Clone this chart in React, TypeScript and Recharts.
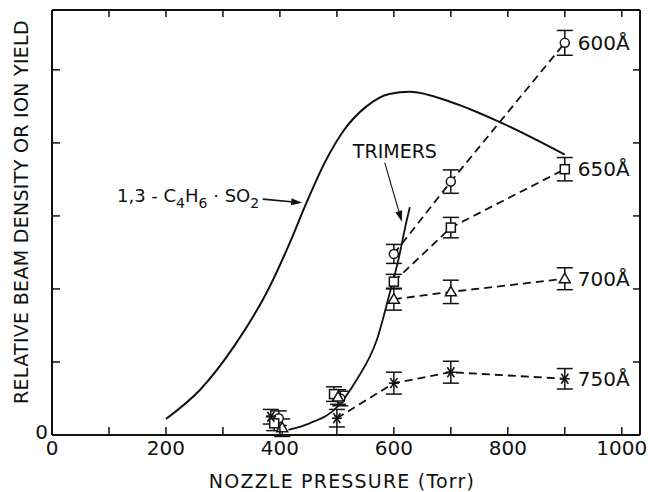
import { ComposedChart, Line, Scatter, XAxis, YAxis, ErrorBar, ReferenceLine, ReferenceDot } from 'recharts';

const ink = '#111';
const font = '"DejaVu Sans", sans-serif';

const xTicks = [0, 100, 200, 300, 400, 500, 600, 700, 800, 900, 1000];
const yTicks = [0, 1, 2, 3, 4, 5];

// solid curves
const adductCurve = [
  { x: 200, y: 0.22 }, { x: 260, y: 0.62 }, { x: 320, y: 1.22 }, { x: 380, y: 2.0 },
  { x: 420, y: 2.68 }, { x: 445, y: 3.15 }, { x: 480, y: 3.75 }, { x: 512, y: 4.17 },
  { x: 552, y: 4.5 }, { x: 592, y: 4.67 }, { x: 628, y: 4.7 }, { x: 700, y: 4.56 },
  { x: 790, y: 4.27 }, { x: 900, y: 3.84 },
];
const trimerCurve = [
  { x: 415, y: 0.07 }, { x: 452, y: 0.16 }, { x: 500, y: 0.38 }, { x: 535, y: 0.76 },
  { x: 570, y: 1.3 }, { x: 593, y: 1.95 }, { x: 608, y: 2.4 }, { x: 622, y: 2.92 }, { x: 628, y: 3.12 },
];

// ion yields with error bars
const s600 = [{ x: 600, y: 2.48, err: 0.13 }, { x: 700, y: 3.47, err: 0.16 }, { x: 900, y: 5.37, err: 0.17 }];
const s650 = [{ x: 600, y: 2.1, err: 0.1 }, { x: 700, y: 2.84, err: 0.14 }, { x: 900, y: 3.64, err: 0.16 }];
const s700 = [{ x: 600, y: 1.86, err: 0.15 }, { x: 700, y: 1.96, err: 0.16 }, { x: 900, y: 2.14, err: 0.15 }];
const s750 = [{ x: 500, y: 0.23, err: 0.12 }, { x: 600, y: 0.71, err: 0.15 }, { x: 700, y: 0.86, err: 0.15 }, { x: 900, y: 0.77, err: 0.14 }];

const s600Low = [{ x: 398, y: 0.23, err: 0.1 }, { x: 506, y: 0.5, err: 0.1 }];
const s650Low = [{ x: 390, y: 0.16, err: 0.1 }, { x: 495, y: 0.56, err: 0.1 }];
const s700Low = [{ x: 404, y: 0.1, err: 0.12 }, { x: 502, y: 0.52, err: 0.1 }];
const s750Low = [{ x: 384, y: 0.25, err: 0.1 }];

const seriesLabels = ['600', '650', '700', '750'];

const formulaAnchor = { x: 114, y: 3.19 };
const formulaArrow = [{ x: 370, y: 3.23 }, { x: 439, y: 3.18 }];
const trimerAnchor = { x: 528, y: 3.79 };
const trimerArrow = [{ x: 584, y: 3.73 }, { x: 614, y: 2.92 }];

const dashed = { stroke: ink, strokeWidth: 1.8, strokeDasharray: '8 5' };

function CircleMark(p: any) {
  return <circle cx={p.cx} cy={p.cy} r={4.5} fill="#fff" stroke={ink} strokeWidth={1.5} />;
}
function SquareMark(p: any) {
  return <rect x={p.cx - 4.5} y={p.cy - 4.5} width={9} height={9} fill="#fff" stroke={ink} strokeWidth={1.5} />;
}
function TriangleMark(p: any) {
  const { cx, cy } = p;
  return <polygon points={`${cx},${cy - 5.5} ${cx - 5.5},${cy + 4} ${cx + 5.5},${cy + 4}`} fill="#fff" stroke={ink} strokeWidth={1.5} />;
}
function StarMark(p: any) {
  const { cx, cy } = p;
  return (
    <g stroke={ink} strokeWidth={1.6}>
      <line x1={cx - 5} y1={cy} x2={cx + 5} y2={cy} />
      <line x1={cx - 3.5} y1={cy - 5} x2={cx + 3.5} y2={cy + 5} />
      <line x1={cx - 3.5} y1={cy + 5} x2={cx + 3.5} y2={cy - 5} />
    </g>
  );
}

function BottomTick(p: any) {
  const { x, y, payload } = p;
  const v = payload.value;
  return (
    <g>
      {v > 0 && <line x1={x} y1={y} x2={x} y2={y - 8} stroke={ink} strokeWidth={1.5} />}
      {v % 200 === 0 && (
        <text x={x} y={y + 20} textAnchor="middle" fontSize={20} fontFamily={font} fill={ink}>{v}</text>
      )}
    </g>
  );
}
function TopTick(p: any) {
  const { x, y, payload } = p;
  if (payload.value <= 0) return <g />;
  return <line x1={x} y1={y} x2={x} y2={y + 7} stroke={ink} strokeWidth={1.5} />;
}
function LeftTick(p: any) {
  const { x, y, payload } = p;
  if (payload.value === 0) {
    return <text x={x - 4} y={y + 4} textAnchor="end" fontSize={20} fontFamily={font} fill={ink}>0</text>;
  }
  return <line x1={x} y1={y} x2={x + 8} y2={y} stroke={ink} strokeWidth={1.5} />;
}
function RightTick(p: any) {
  const { x, y, payload } = p;
  if (payload.value === 0) return <g />;
  return <line x1={x} y1={y} x2={x - 7} y2={y} stroke={ink} strokeWidth={1.5} />;
}

function Arrow(p: any) {
  const { x1, y1, x2, y2 } = p;
  const a = Math.atan2(y2 - y1, x2 - x1);
  const len = 11;
  const w = 3.5;
  const bx = x2 - len * Math.cos(a);
  const by = y2 - len * Math.sin(a);
  const px = -Math.sin(a) * w;
  const py = Math.cos(a) * w;
  return (
    <g>
      <line x1={x1} y1={y1} x2={bx} y2={by} stroke={ink} strokeWidth={p.strokeWidth || 1.3} />
      <polygon points={`${x2},${y2} ${bx + px},${by + py} ${bx - px},${by - py}`} fill={ink} />
    </g>
  );
}

function center(vb: any) {
  return { cx: vb.x + vb.width / 2, cy: vb.y + vb.height / 2 };
}

function SeriesLabel(text: string) {
  return (props: any) => {
    const { cx, cy } = center(props.viewBox);
    return (
      <text x={cx + 13} y={cy + 7} fontSize={20} fontFamily={font} fill={ink}>
        {text}Å
      </text>
    );
  };
}

function FormulaLabel(props: any) {
  const { cx, cy } = center(props.viewBox);
  return (
    <text x={cx} y={cy} fontSize={18} fontFamily={font} fill={ink}>
      <tspan>1,3 - C</tspan>
      <tspan dy={6} fontSize={14}>4</tspan>
      <tspan dy={-6}>H</tspan>
      <tspan dy={6} fontSize={14}>6</tspan>
      <tspan dy={-6}> · SO</tspan>
      <tspan dy={6} fontSize={14}>2</tspan>
    </text>
  );
}

function TrimerLabel(props: any) {
  const { cx, cy } = center(props.viewBox);
  return (
    <text x={cx} y={cy} fontSize={19} fontFamily={font} fill={ink}>TRIMERS</text>
  );
}

function XTitle(props: any) {
  const vb = props.viewBox || { x: 52, y: 435, width: 588, height: 57 };
  return (
    <text x={vb.x + 290} y={vb.y + 53} textAnchor="middle" fontSize={19} letterSpacing={1.2} fontFamily={font} fill={ink}>
      NOZZLE PRESSURE (Torr)
    </text>
  );
}
function YTitle(props: any) {
  const vb = props.viewBox || { x: 0, y: 10, width: 52, height: 425 };
  const x = vb.x + 21;
  const y = vb.y + 202;
  return (
    <text x={x} y={y} transform={`rotate(-90 ${x} ${y})`} textAnchor="middle" dominantBaseline="central" fontSize={19} letterSpacing={0.3} fontFamily={font} fill={ink}>
      RELATIVE BEAM DENSITY OR ION YIELD
    </text>
  );
}

const lineSeries = [
  { data: s600, shape: CircleMark },
  { data: s650, shape: SquareMark },
  { data: s700, shape: TriangleMark },
  { data: s750, shape: StarMark },
];
const lowSeries = [
  { data: s600Low, shape: CircleMark },
  { data: s650Low, shape: SquareMark },
  { data: s700Low, shape: TriangleMark },
  { data: s750Low, shape: StarMark },
];

export default function App() {
  return (
    <div style={{ position: 'absolute', left: 0, top: 0, width: 648, height: 492, background: '#fff' }}>
      <ComposedChart width={648} height={492} margin={{ top: 0, right: 0, bottom: 0, left: 0 }}>
        <XAxis
          xAxisId="b" type="number" dataKey="x" domain={[0, 1032]} allowDataOverflow ticks={xTicks} interval={0}
          height={57} tickSize={0} tickMargin={0} tickLine={false} tick={BottomTick}
          axisLine={{ stroke: ink, strokeWidth: 2 }} label={XTitle}
        />
        <XAxis
          xAxisId="t" orientation="top" type="number" dataKey="x" domain={[0, 1032]} allowDataOverflow ticks={xTicks} interval={0}
          height={10} tickSize={0} tickMargin={0} tickLine={false} tick={TopTick}
          axisLine={{ stroke: ink, strokeWidth: 2 }}
        />
        <YAxis
          yAxisId="l" type="number" dataKey="y" domain={[0, 5.82]} allowDataOverflow ticks={yTicks} interval={0}
          width={52} tickSize={0} tickMargin={0} tickLine={false} tick={LeftTick}
          axisLine={{ stroke: ink, strokeWidth: 2 }} label={YTitle}
        />
        <YAxis
          yAxisId="r" orientation="right" type="number" dataKey="y" domain={[0, 5.82]} allowDataOverflow ticks={yTicks} interval={0}
          width={8} tickSize={0} tickMargin={0} tickLine={false} tick={RightTick}
          axisLine={{ stroke: ink, strokeWidth: 2 }}
        />

        <Line xAxisId="b" yAxisId="l" data={adductCurve} dataKey="y" type="monotone" stroke={ink} strokeWidth={2} dot={false} isAnimationActive={false} />
        <Line xAxisId="b" yAxisId="l" data={trimerCurve} dataKey="y" type="monotone" stroke={ink} strokeWidth={1.8} dot={false} isAnimationActive={false} />

        {lineSeries.map((s, i) => (
          <Scatter key={'l' + i} xAxisId="b" yAxisId="l" data={s.data} dataKey="y" shape={s.shape} line={dashed} lineType="joint" isAnimationActive={false}>
            <ErrorBar dataKey="err" direction="y" width={8} stroke={ink} strokeWidth={1.5} />
          </Scatter>
        ))}
        {lowSeries.map((s, i) => (
          <Scatter key={'o' + i} xAxisId="b" yAxisId="l" data={s.data} dataKey="y" shape={s.shape} isAnimationActive={false}>
            <ErrorBar dataKey="err" direction="y" width={8} stroke={ink} strokeWidth={1.5} />
          </Scatter>
        ))}

        {lineSeries.map((s, i) => {
          const last = s.data[s.data.length - 1];
          return (
            <ReferenceDot key={'d' + i} xAxisId="b" yAxisId="l" x={last.x} y={last.y} r={1} fill="none" stroke="none" label={SeriesLabel(seriesLabels[i])} />
          );
        })}

        <ReferenceDot xAxisId="b" yAxisId="l" x={formulaAnchor.x} y={formulaAnchor.y} r={1} fill="none" stroke="none" label={FormulaLabel} />
        <ReferenceDot xAxisId="b" yAxisId="l" x={trimerAnchor.x} y={trimerAnchor.y} r={1} fill="none" stroke="none" label={TrimerLabel} />
        <ReferenceLine xAxisId="b" yAxisId="l" segment={formulaArrow} shape={(p: any) => <Arrow {...p} strokeWidth={1.6} />} />
        <ReferenceLine xAxisId="b" yAxisId="l" segment={trimerArrow} shape={(p: any) => <Arrow {...p} strokeWidth={1.1} />} />
      </ComposedChart>
    </div>
  );
}
